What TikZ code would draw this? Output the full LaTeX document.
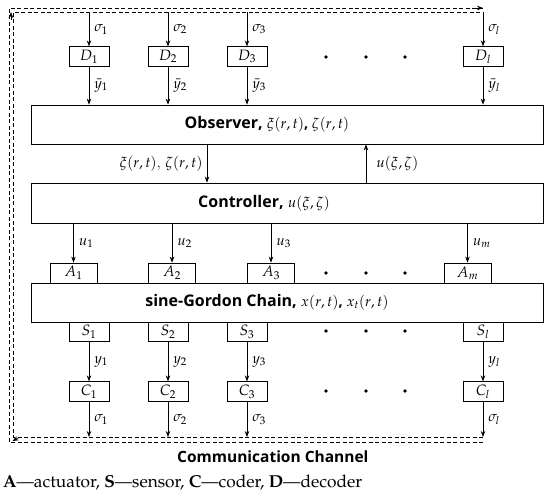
\documentclass[tikz,border=0pt]{standalone}
\usepackage{mathpazo}
\usepackage{fontspec}
\setsansfont{Open Sans}
\usetikzlibrary{arrows.meta}
\begin{document}
\begin{tikzpicture}[x=1pt,y=-1pt,
  sbox/.style={draw, line width=0.8pt, inner sep=0pt, minimum width=40pt, minimum height=19.5pt, font=\fontsize{15}{17}\selectfont},
  abox/.style={sbox, minimum width=47pt, minimum height=20pt},
  bigbox/.style={draw, line width=0.8pt, inner sep=0pt, minimum width=512pt, minimum height=39pt},
  bigtext/.style={inner sep=0pt, font=\sffamily\bfseries\fontsize{16}{18}\selectfont},
  arr/.style={-{Stealth[length=6pt,width=4.5pt]}, line width=0.7pt},
  lab/.style={font=\fontsize{14.5}{16}\selectfont, inner sep=0pt},
  dotn/.style={circle, fill, inner sep=0pt, minimum size=3.6pt},
  chan/.style={line width=0.7pt, dash pattern=on 4pt off 2.5pt},
  tip/.style={-{Stealth[length=6pt,width=4.5pt]}, line width=0.7pt}]
\useasboundingbox (0,0) rectangle (550,498);

% big boxes
\node[bigbox] (obs) at (287,124.5) {};
\node[bigtext] (obsT) at (267,124.5) {Observer, {\fontsize{14.5}{16}\selectfont$\xi(r,t)$, $\zeta(r,t)$}};
\node[bigbox, minimum height=40pt] (ctl) at (287,203) {};
\node[bigtext] (ctlT) at (264,203) {Controller, {\fontsize{14.5}{16}\selectfont$u(\xi,\zeta)$}};
\node[bigbox] (sg) at (287,302.5) {};
\node[bigtext] (sgT) at (267,302.5) {sine-Gordon Chain, {\fontsize{14.5}{16}\selectfont$x(r,t)$, $x_t(r,t)$}};

% decoders
\node[sbox] (D1) at (89,56.5) {$D_1$};
\node[sbox] (D2) at (168,56.5) {$D_2$};
\node[sbox] (D3) at (247,56.5) {$D_3$};
\node[sbox] (Dl) at (483,56.5) {$D_l$};

% actuators
\node[abox] (A1) at (73.5,273) {$A_1$};
\node[abox] (A2) at (172,273) {$A_2$};
\node[abox] (A3) at (271,273) {$A_3$};
\node[abox] (Am) at (467.5,273) {$A_m$};

% sensors
\node[sbox] (S1) at (89,332) {$S_1$};
\node[sbox] (S2) at (168,332) {$S_2$};
\node[sbox] (S3) at (247,332) {$S_3$};
\node[sbox] (Sl) at (483,332) {$S_l$};

% coders
\node[sbox] (C1) at (89,391.5) {$C_1$};
\node[sbox] (C2) at (168,391.5) {$C_2$};
\node[sbox] (C3) at (247,391.5) {$C_3$};
\node[sbox] (Cl) at (483,391.5) {$C_l$};

% dots
\foreach \yy/\nm in {57/a,273/b,331/c,391/d}{
  \node[dotn] (\nm1) at (326,\yy) {};
  \node[dotn] (\nm2) at (366,\yy) {};
  \node[dotn] (\nm3) at (405,\yy) {};
}

% channel coordinates
\coordinate (t1) at (89,12);
\coordinate (t2) at (168,12);
\coordinate (t3) at (247,12);
\coordinate (tl) at (483,12);
\coordinate (b1) at (89,437);
\coordinate (b2) at (168,437);
\coordinate (b3) at (247,437);
\coordinate (bl) at (483,437);

% sigma into decoders
\foreach \i/\s in {1/1,2/2,3/3,l/l}{
  \draw[arr] (t\i) -- (D\i.north) node[lab, midway, right=5pt] {$\sigma_\s$};
  \draw[arr] (D\i.south) -- (D\i.south |- obs.north) node[lab, midway, right=5pt] {$\bar{y}_\s$};
  \draw[arr] (S\i.south) -- (C\i.north) node[lab, midway, right=5pt] {$y_\s$};
  \draw[arr] (C\i.south) -- (b\i) node[lab, midway, right=5pt] {$\sigma_\s$};
}

% observer <-> controller
\coordinate (oc) at (207,144);
\coordinate (co) at (366,183);
\draw[arr] (oc) -- (oc |- ctl.north) node[lab, midway, left=4pt] {$\xi(r,t)$, $\zeta(r,t)$};
\draw[arr] (co) -- (co |- obs.south) node[lab, midway, right=10pt] {$u(\xi,\zeta)$};

% controller -> actuators
\foreach \i/\s in {1/1,2/2,3/3,m/m}{
  \draw[arr] (A\i.north |- ctl.south) -- (A\i.north) node[lab, midway, right=5pt] {$u_\s$};
}

% communication channel (double dashed)
\coordinate (ctr) at (483,8);
\coordinate (ctl0) at (9,8);
\coordinate (cbl0) at (9,442);
\coordinate (cbr) at (483,442);
\coordinate (itr) at (483,12);
\coordinate (itl) at (13,12);
\coordinate (ibl) at (13,437);
\coordinate (ibr) at (483,437);
\draw[chan] (cbr) -- (cbl0) -- (ctl0) -- (ctr);
\draw[chan] (ibr) -- (ibl) -- (itl) -- (itr);
\coordinate (h1) at (476,8);
\draw[tip] (h1) -- (ctr);
\coordinate (h2a) at (11,20);
\coordinate (h2b) at (11,12);
\draw[tip] (h2a) -- (h2b);
\coordinate (h3a) at (19,437.5);
\coordinate (h3b) at (12.5,441);
\draw[tip] (h3a) -- (h3b);

\node[font=\sffamily\bfseries\fontsize{15.5}{18}\selectfont, inner sep=0pt, anchor=west] (cc) at (177,457) {Communication Channel};

\node[anchor=west, inner sep=0pt] (cap) at (3,483) {\fontencoding{OT1}\fontfamily{ppl}\fontsize{17.3}{19}\selectfont \textbf{A}---actuator, \textbf{S}---sensor, \textbf{C}---coder, \textbf{D}---decoder};
\end{tikzpicture}
\end{document}
